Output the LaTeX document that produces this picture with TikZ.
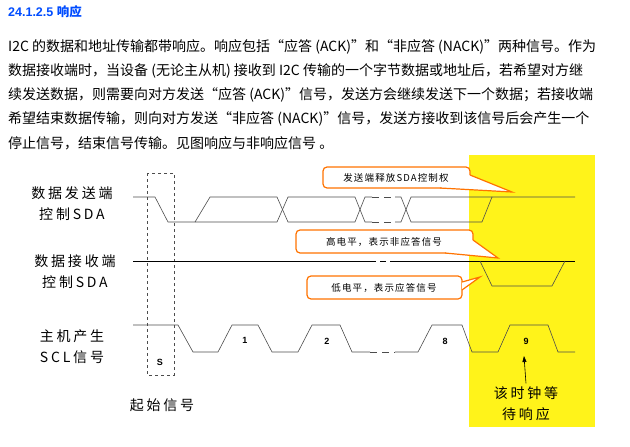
\documentclass[tikz,border=0pt]{standalone}
\usepackage{fontspec}
\setmainfont{Liberation Serif}
\newfontfamily\cjk{Noto Sans CJK SC}
\newfontfamily\cjksp{Noto Sans CJK SC}[LetterSpace=20]
\newfontfamily\cjkcs{Noto Sans CJK SC}[LetterSpace=12]
\newfontfamily\hd{Liberation Sans}
\usetikzlibrary{arrows.meta}
\begin{document}
\begin{tikzpicture}[x=1pt,y=-1pt,
  sig/.style={draw=black!70,line width=0.6pt},
  callout/.style={draw=orange!90!red,line width=1.2pt,fill=white,rounded corners=4pt},
  ctxt/.style={font=\cjkcs\fontsize{9.5}{10}\selectfont},
  lbl/.style={font=\cjksp\fontsize{14}{21}\selectfont,align=center},
  para/.style={anchor=west,inner sep=0pt,font=\cjk\fontsize{14}{16}\selectfont},
  num/.style={font=\hd\bfseries\fontsize{9}{10}\selectfont}]
\useasboundingbox (0,0) rectangle (630,447);
% header
\node[anchor=west,inner sep=0pt,font=\hd\bfseries\fontsize{12.5}{14}\selectfont,text=blue!70!cyan] (hd) at (8,12) {24.1.2.5 {\cjk 响应}};
\node[para] (p1) at (8,47) {I2C 的数据和地址传输都带响应。响应包括“应答 (ACK)”和“非应答 (NACK)”两种信号。作为};
\node[para] (p2) at (8,71) {数据接收端时，当设备 (无论主从机) 接收到 I2C 传输的一个字节数据或地址后，若希望对方继};
\node[para] (p3) at (8,95) {续发送数据，则需要向对方发送“应答 (ACK)”信号，发送方会继续发送下一个数据；若接收端};
\node[para] (p4) at (8,119) {希望结束数据传输，则向对方发送“非应答 (NACK)”信号，发送方接收到该信号后会产生一个};
\node[para] (p5) at (8,143) {停止信号，结束信号传输。见图响应与非响应信号 。};
% yellow
\fill[yellow!90!white] (469,155) rectangle (595,427);
% dashed start box
\draw[dashed,black!70] (147,173) rectangle (174,375);
\node[num] (s) at (160,362) {S};
% sender SDA
\draw[sig] (133,197) -- (155,197) -- (168,222) -- (195,222) -- (210,197) -- (277,197) -- (288,222) -- (355,222) -- (365,197) -- (372,197);
\draw[sig] (195,222) -- (277,222) -- (288,197) -- (355,197) -- (365,222) -- (372,222);
\draw[sig,dash pattern=on 7pt off 5pt] (372,197) -- (395,197) (372,222) -- (395,222);
\draw[sig] (395,197) -- (401,197) -- (411,222) -- (482,222) -- (492,197) -- (575,197);
\draw[sig] (395,222) -- (401,222) -- (411,197) -- (492,197);
% receiver SDA
\draw[line width=0.7pt] (133,261) -- (370,261);
\draw[line width=0.7pt,dash pattern=on 6pt off 4pt] (370,261) -- (392,261);
\draw[line width=0.7pt] (392,261) -- (575,261);
\draw[sig] (480,261) -- (492,286) -- (552,286) -- (565,261);
% SCL
\draw[sig] (133,325) -- (178,325) -- (193,352) -- (218,352) -- (232,325) -- (258,325) -- (272,352) -- (298,352) -- (312,325) -- (340,325) -- (352,352) -- (370,352);
\draw[sig,dash pattern=on 7pt off 5pt] (370,352) -- (395,352);
\draw[sig] (395,352) -- (418,352) -- (432,325) -- (462,325) -- (472,352) -- (498,352) -- (510,325) -- (548,325) -- (558,352) -- (575,352);
\node[num] (n1) at (245,340) {1};
\node[num] (n2) at (327,341) {2};
\node[num] (n8) at (445,341) {8};
\node[num] (n9) at (526,341) {9};
% labels
\node[lbl] (l1) at (72,204) {数据发送端\\控制SDA};
\node[lbl] (l2) at (75,272) {数据接收端\\控制SDA};
\node[lbl] (l3) at (72,347) {主机产生\\SCL信号};
\node[lbl] (start) at (162,405) {起始信号};
\node[lbl] (wait) at (526,404) {该时钟等\\待响应};
\coordinate (at9) at (524,356);
\draw[-{Triangle[length=6pt,width=4pt]},line width=0.6pt] (wait.north) -- (at9);
% callouts
\draw[callout] (323,167) rectangle (470,188);
\draw[orange!90!red,line width=1.2pt,fill=white] (440,188) -- (512,192) -- (470,175);
\node[ctxt] (c1) at (396,177.5) {发送端释放SDA控制权};
\draw[callout] (296,230) rectangle (473,253);
\draw[orange!90!red,line width=1.2pt,fill=white] (445,253) -- (498,258) -- (473,240) ;
\node[ctxt] (c2) at (384,241.5) {高电平，表示非应答信号};
\draw[callout] (307,276) rectangle (462,299);
\draw[orange!90!red,line width=1.2pt,fill=white] (462,282) -- (480,277) -- (462,290);
\node[ctxt] (c3) at (384,287.5) {低电平，表示应答信号};
\end{tikzpicture}
\end{document}
